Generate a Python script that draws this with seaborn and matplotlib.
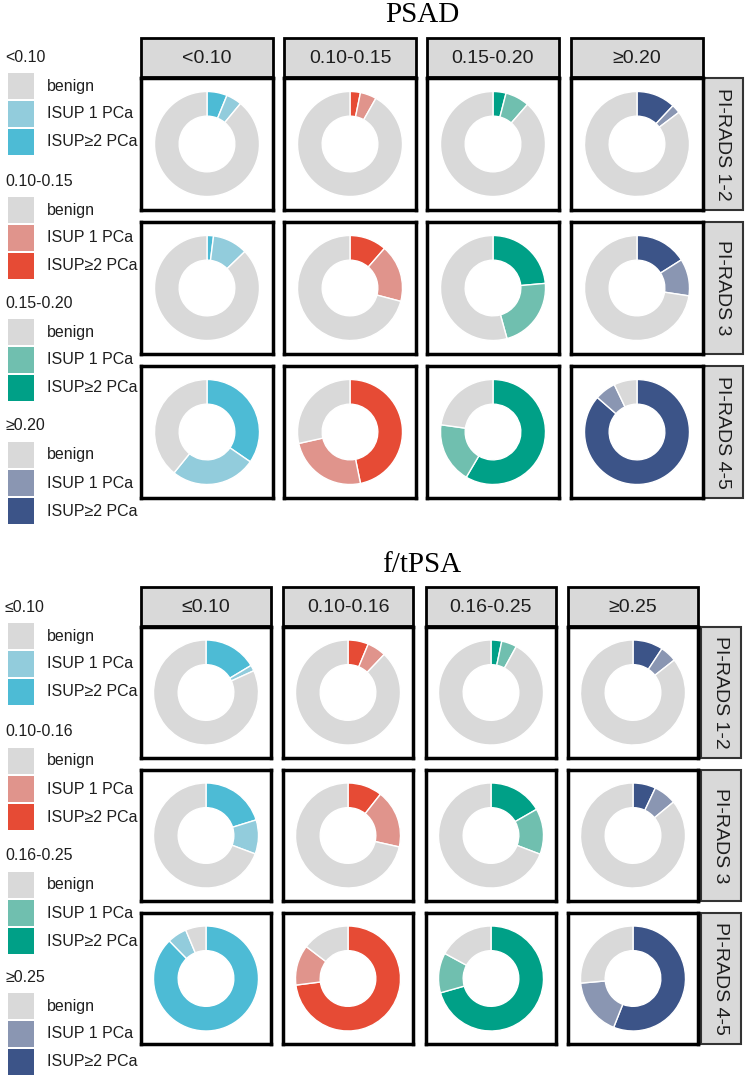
import matplotlib
matplotlib.use("Agg")
import matplotlib.pyplot as plt
from matplotlib.patches import Rectangle
import seaborn as sns

# ---------------- data ----------------
psad_groups = ["<0.10", "0.10-0.15", "0.15-0.20", "≥0.20"]
ftpsa_groups = ["≤0.10", "0.10-0.16", "0.16-0.25", "≥0.25"]
pirads_labels = ["PI-RADS 1-2", "PI-RADS 3", "PI-RADS 4-5"]
outcome_labels = ["benign", "ISUP 1 PCa", "ISUP≥2 PCa"]

# percentages; rows = PI-RADS category, columns = marker group
psad_isup2 = [[6.2, 3.2, 4.0, 12.0],
              [2.0, 11.4, 23.6, 16.0],
              [34.6, 46.8, 58.5, 86.4]]
psad_isup1 = [[4.8, 5.0, 7.4, 2.7],
              [10.8, 17.7, 22.1, 11.4],
              [26.2, 24.7, 18.7, 6.5]]
ftpsa_isup2 = [[16.4, 6.3, 3.3, 9.3],
               [20.2, 10.6, 16.7, 7.0],
               [87.7, 73.0, 70.6, 56.0]]
ftpsa_isup1 = [[1.8, 5.8, 4.7, 5.1],
               [10.5, 17.9, 14.1, 7.0],
               [6.0, 12.4, 12.3, 17.6]]

# ---------------- style ----------------
sns.set_theme(style="white")
plt.rcParams["font.family"] = ["Liberation Sans", "DejaVu Sans"]

benign_color = "#D9D9D9"
light_colors = sns.color_palette(["#92CCDC", "#E0948C", "#70BFAF", "#8A96B2"])
dark_colors = sns.color_palette(["#4DBBD5", "#E64B35", "#00A087", "#3C5488"])

W, H = 750, 1076
fig = plt.figure(figsize=(W / 100, H / 100), dpi=100)
ov = fig.add_axes([0, 0, 1, 1])
ov.set_xlim(0, W)
ov.set_ylim(H, 0)
ov.axis("off")

R_PX = 52.5  # outer radius of donut in pixels


def frac(x, y, w, h):
    return [x / W, 1 - (y + h) / H, w / W, h / H]


def draw_block(title, title_y, groups, isup2, isup1, col_x, col_w, head_y, head_h,
               row_y, row_h, strip_x, strip_w, leg_y):
    ov.text(422, title_y, title, ha="center", va="center", fontsize=21,
            family=["Liberation Serif", "DejaVu Serif"], color="black")
    for j, g in enumerate(groups):
        ov.add_patch(Rectangle((col_x[j], head_y), col_w, head_h, fc=benign_color,
                               ec="black", lw=2))
        ov.text(col_x[j] + col_w / 2, head_y + head_h / 2 + 1, g, ha="center",
                va="center", fontsize=14, color="#1e1e1e")
        for i in range(len(row_y)):
            ax = fig.add_axes(frac(col_x[j], row_y[i], col_w, row_h))
            vals = [isup2[i][j], isup1[i][j], 100 - isup2[i][j] - isup1[i][j]]
            ax.pie(vals, colors=[dark_colors[j], light_colors[j], benign_color],
                   startangle=90, counterclock=False, radius=1,
                   wedgeprops=dict(width=0.47, edgecolor="white", linewidth=1))
            ax.set_aspect("auto")
            ax.set_xlim(-col_w / 2 / R_PX, col_w / 2 / R_PX)
            ax.set_ylim(-row_h / 2 / R_PX, row_h / 2 / R_PX)
            ax.set_frame_on(True)
            for s in ax.spines.values():
                s.set_visible(True)
                s.set_color("black")
                s.set_linewidth(2.5)
            ax.set_xticks([])
            ax.set_yticks([])
    for i, lab in enumerate(pirads_labels):
        ov.add_patch(Rectangle((strip_x, row_y[i]), strip_w, row_h, fc=benign_color,
                               ec="#333333", lw=1.5))
        ov.text(strip_x + strip_w / 2, row_y[i] + row_h / 2, lab, rotation=270,
                ha="center", va="center", fontsize=14, color="#1e1e1e")
    # legend
    for k, g in enumerate(groups):
        ty = leg_y[k]
        ov.text(5, ty, g, ha="left", va="center", fontsize=11.5, color="#1e1e1e")
        cols = [benign_color, light_colors[k], dark_colors[k]]
        for m, (lab, c) in enumerate(zip(outcome_labels, cols)):
            sy = ty + 16 + m * 28
            ov.add_patch(Rectangle((8, sy), 26, 25.5, fc=c, ec="none"))
            ov.text(47, sy + 13, lab, ha="left", va="center", fontsize=11.5,
                    color="#1e1e1e")


draw_block("PSAD", 15, psad_groups, psad_isup2, psad_isup1,
           col_x=[141, 284, 427, 571], col_w=132, head_y=38, head_h=39,
           row_y=[78, 222, 366], row_h=132, strip_x=703, strip_w=40,
           leg_y=[57, 181, 303, 426])

draw_block("f/tPSA", 565, ftpsa_groups, ftpsa_isup2, ftpsa_isup1,
           col_x=[141, 283, 426, 568], col_w=130, head_y=587, head_h=39,
           row_y=[627, 770, 913], row_h=131, strip_x=701, strip_w=40,
           leg_y=[607, 732, 856, 977])

fig.savefig("out.png", dpi=100)
